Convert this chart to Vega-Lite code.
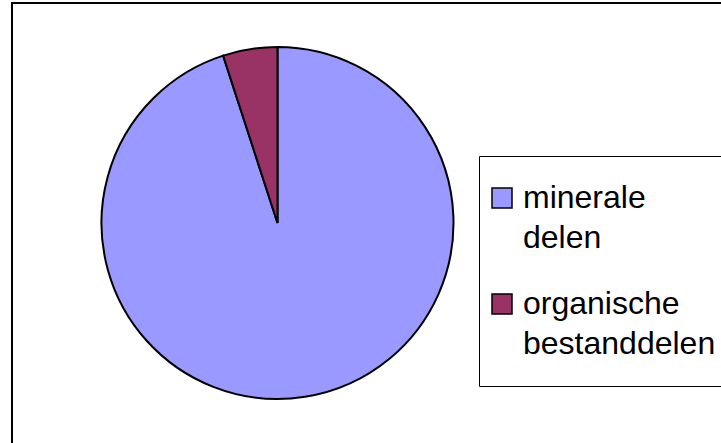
{
  "$schema": "https://vega.github.io/schema/vega-lite/v6.json",
  "width": 720,
  "height": 450,
  "autosize": "none",
  "padding": {"left": 12, "top": 3, "right": 0, "bottom": 0},
  "background": "white",
  "config": {
    "view": {"stroke": null},
    "style": {"guide-label": {"lineHeight": 40}}
  },
  "layer": [
    {
      "data": {"values": [{"frame": 1}]},
      "mark": {"type": "rect", "fill": "white", "stroke": "black", "strokeWidth": 2},
      "encoding": {}
    },
    {
      "data": {
        "values": [
          {"deel": "minerale delen", "aandeel": 95},
          {"deel": "organische bestanddelen", "aandeel": 5}
        ]
      },
      "mark": {"type": "arc", "radius": 176, "x": 265.5, "y": 220, "stroke": "black", "strokeWidth": 2},
      "encoding": {
        "theta": {"field": "aandeel", "type": "quantitative", "stack": true},
        "color": {
          "field": "deel",
          "type": "nominal",
          "scale": {"domain": ["minerale delen", "organische bestanddelen"], "range": ["#9999FF", "#993366"]},
          "legend": {
            "title": null,
            "orient": "none",
            "legendX": 467,
            "legendY": 153,
            "fillColor": "white",
            "strokeColor": "black",
            "padding": 26,
            "symbolOffset": -19,
            "symbolType": "square",
            "symbolSize": 400,
            "symbolStrokeColor": "black",
            "symbolStrokeWidth": 1.5,
            "symbolOpacity": 1,
            "labelFont": "Liberation Sans",
            "labelFontSize": 32,
            "labelColor": "black",
            "labelLimit": 0,
            "labelOffset": 5,
            "labelBaseline": "middle",
            "labelExpr": "split(datum.label, ' ')",
            "rowPadding": 34
          }
        }
      }
    }
  ]
}
